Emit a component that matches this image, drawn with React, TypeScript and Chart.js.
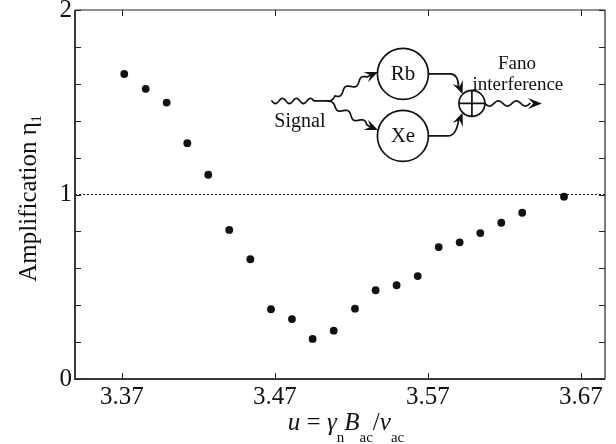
import React, { useEffect, useRef } from 'react';
import { Chart, registerables } from 'chart.js';

Chart.register(...registerables);

// ---- data ----
const uValues = [
  3.3715, 3.3855, 3.3992, 3.4127, 3.4264, 3.4401, 3.4539, 3.4674, 3.4811, 3.4946,
  3.5084, 3.5223, 3.5358, 3.5495, 3.5633, 3.577, 3.5907, 3.6042, 3.6179, 3.6316, 3.6589,
];
const etaValues = [
  1.653, 1.573, 1.498, 1.278, 1.107, 0.808, 0.649, 0.378, 0.325, 0.217,
  0.262, 0.381, 0.481, 0.508, 0.558, 0.715, 0.741, 0.791, 0.847, 0.901, 0.988,
];
const xTickValues = [3.37, 3.47, 3.57, 3.67];
const yLabelValues = [0, 1, 2];
const yTickMarkValues = [0, 0.2, 0.4, 0.6, 0.8, 1, 1.2, 1.4, 1.6, 1.8, 2];
const referenceLevel = 1;
const X_MIN = 3.3393;
const X_MAX = 3.6857;
const Y_MIN = 0;
const Y_MAX = 2;
// anchor of the inset diagram (signal junction), in data coordinates
const diagramAnchor = { u: 3.5046, eta: 1.507 };

const FONT = "'Liberation Serif', 'Times New Roman', serif";

type Run = { t: string; italic?: boolean; sub?: boolean };

function drawRuns(
  ctx: CanvasRenderingContext2D,
  runs: Run[],
  cx: number,
  baseline: number,
  mainSize: number,
  subSize: number,
  subDrop: number
) {
  const fontFor = (r: Run) => `${r.italic ? 'italic ' : ''}${r.sub ? subSize : mainSize}px ${FONT}`;
  const widths = runs.map((r) => {
    ctx.font = fontFor(r);
    return ctx.measureText(r.t).width;
  });
  const total = widths.reduce((a, b) => a + b, 0);
  let x = cx - total / 2;
  ctx.textAlign = 'left';
  ctx.textBaseline = 'alphabetic';
  runs.forEach((r, i) => {
    ctx.font = fontFor(r);
    ctx.fillText(r.t, x, baseline + (r.sub ? subDrop : 0));
    x += widths[i];
  });
}

function arrowHead(ctx: CanvasRenderingContext2D, tx: number, ty: number, ang: number, len = 10, hw = 4.5) {
  const c = Math.cos(ang);
  const s = Math.sin(ang);
  const bx = tx - c * len;
  const by = ty - s * len;
  const nx = tx - c * len * 0.62;
  const ny = ty - s * len * 0.62;
  ctx.beginPath();
  ctx.moveTo(tx, ty);
  ctx.lineTo(bx - s * hw, by + c * hw);
  ctx.lineTo(nx, ny);
  ctx.lineTo(bx + s * hw, by - c * hw);
  ctx.closePath();
  ctx.fill();
}

function wavyTo(
  ctx: CanvasRenderingContext2D,
  x0: number,
  y0: number,
  x1: number,
  y1: number,
  periods: number,
  amp: number
) {
  const dx = x1 - x0;
  const dy = y1 - y0;
  const L = Math.hypot(dx, dy);
  const px = -dy / L;
  const py = dx / L;
  const n = 60;
  for (let i = 0; i <= n; i++) {
    const t = i / n;
    const o = amp * Math.sin(2 * Math.PI * periods * t);
    ctx.lineTo(x0 + dx * t + px * o, y0 + dy * t + py * o);
  }
}

const decorPlugin = {
  id: 'decor',
  afterDraw(chart: any) {
    const { ctx, chartArea, scales } = chart;
    const xs = scales.x;
    const ys = scales.y;
    const { left, right, top, bottom } = chartArea;
    ctx.save();

    // frame
    ctx.strokeStyle = '#222';
    ctx.lineWidth = 1.2;
    ctx.beginPath();
    ctx.moveTo(left, top);
    ctx.lineTo(right, top);
    ctx.lineTo(right, bottom);
    ctx.stroke();
    ctx.strokeStyle = '#3a3a3a';
    ctx.lineWidth = 2;
    ctx.beginPath();
    ctx.moveTo(left, top);
    ctx.lineTo(left, bottom);
    ctx.lineTo(right, bottom);
    ctx.stroke();

    // inward tick marks
    ctx.strokeStyle = '#222';
    ctx.lineWidth = 1;
    const tl = 6;
    xTickValues.forEach((v) => {
      const p = Math.round(xs.getPixelForValue(v)) + 0.5;
      ctx.beginPath();
      ctx.moveTo(p, bottom);
      ctx.lineTo(p, bottom - tl);
      ctx.moveTo(p, top);
      ctx.lineTo(p, top + tl);
      ctx.stroke();
    });
    yTickMarkValues.forEach((v) => {
      const p = Math.round(ys.getPixelForValue(v)) + 0.5;
      ctx.beginPath();
      ctx.moveTo(left, p);
      ctx.lineTo(left + tl, p);
      ctx.moveTo(right, p);
      ctx.lineTo(right - tl, p);
      ctx.stroke();
    });

    // axis titles
    ctx.fillStyle = '#111';
    drawRuns(
      ctx,
      [
        { t: 'u', italic: true },
        { t: ' = ' },
        { t: 'γ', italic: true },
        { t: 'n', sub: true },
        { t: 'B', italic: true },
        { t: 'ac', sub: true },
        { t: '/' },
        { t: 'ν', italic: true },
        { t: 'ac', sub: true },
      ],
      (left + right) / 2 + 6,
      430,
      25,
      15,
      12
    );
    ctx.save();
    ctx.translate(36, (top + bottom) / 2 + 4);
    ctx.rotate(-Math.PI / 2);
    drawRuns(ctx, [{ t: 'Amplification η' }, { t: '1', sub: true }], 0, 0, 25, 14, 5);
    ctx.restore();

    // inset diagram
    const ox = xs.getPixelForValue(diagramAnchor.u);
    const oy = ys.getPixelForValue(diagramAnchor.eta);
    ctx.strokeStyle = '#111';
    ctx.fillStyle = '#111';
    ctx.lineWidth = 1.7;
    ctx.lineJoin = 'round';
    ctx.lineCap = 'round';

    // input signal
    ctx.beginPath();
    ctx.moveTo(ox - 56, oy);
    wavyTo(ctx, ox - 56, oy, ox - 14, oy, 3, 2.6);
    ctx.lineTo(ox, oy);
    ctx.stroke();

    // upper branch to Rb
    ctx.beginPath();
    ctx.moveTo(ox, oy);
    ctx.quadraticCurveTo(ox + 5, oy, ox + 7, oy - 5);
    wavyTo(ctx, ox + 7, oy - 5, ox + 39, oy - 24, 2, 2.6);
    ctx.lineTo(ox + 42, oy - 25.5);
    ctx.stroke();
    arrowHead(ctx, ox + 50, oy - 29, Math.atan2(-3, 7), 13, 5.5);

    // lower branch to Xe
    ctx.beginPath();
    ctx.moveTo(ox, oy);
    ctx.quadraticCurveTo(ox + 5, oy, ox + 7, oy + 5);
    wavyTo(ctx, ox + 7, oy + 5, ox + 39, oy + 24, 2, 2.6);
    ctx.lineTo(ox + 42, oy + 25.5);
    ctx.stroke();
    arrowHead(ctx, ox + 50, oy + 29, Math.atan2(3, 7), 13, 5.5);

    // circles
    const rbC = { x: ox + 75, y: oy - 27 };
    const xeC = { x: ox + 75, y: oy + 35 };
    const R = 25.5;
    [rbC, xeC].forEach((c) => {
      ctx.beginPath();
      ctx.arc(c.x, c.y, R, 0, Math.PI * 2);
      ctx.stroke();
    });
    const sumC = { x: ox + 144, y: oy + 2.5 };
    const r2 = 13;
    ctx.beginPath();
    ctx.arc(sumC.x, sumC.y, r2, 0, Math.PI * 2);
    ctx.moveTo(sumC.x - r2, sumC.y);
    ctx.lineTo(sumC.x + r2, sumC.y);
    ctx.moveTo(sumC.x, sumC.y - r2);
    ctx.lineTo(sumC.x, sumC.y + r2);
    ctx.stroke();

    // Rb -> sum
    const t1 = { x: sumC.x - r2 * 0.72, y: sumC.y - r2 * 0.72 };
    ctx.beginPath();
    ctx.moveTo(rbC.x + R, rbC.y);
    ctx.lineTo(ox + 122, rbC.y);
    ctx.quadraticCurveTo(ox + 130, rbC.y, t1.x - 4, t1.y - 8);
    ctx.stroke();
    arrowHead(ctx, t1.x, t1.y, Math.atan2(1.4, 0.55), 13, 5.5);

    // Xe -> sum
    const t2 = { x: sumC.x - r2 * 0.72, y: sumC.y + r2 * 0.72 };
    ctx.beginPath();
    ctx.moveTo(xeC.x + R, xeC.y);
    ctx.lineTo(ox + 120, xeC.y);
    ctx.quadraticCurveTo(ox + 128, xeC.y, t2.x - 4, t2.y + 8);
    ctx.stroke();
    arrowHead(ctx, t2.x, t2.y, Math.atan2(-1.4, 0.55), 13, 5.5);

    // output
    ctx.beginPath();
    ctx.moveTo(sumC.x + r2, sumC.y);
    wavyTo(ctx, sumC.x + r2, sumC.y, ox + 202, sumC.y, 2.5, 2.6);
    ctx.stroke();
    arrowHead(ctx, ox + 214, sumC.y, 0, 14, 5.5);

    // labels
    ctx.textAlign = 'center';
    ctx.textBaseline = 'middle';
    ctx.font = `21px ${FONT}`;
    ctx.fillText('Rb', rbC.x, rbC.y + 1);
    ctx.fillText('Xe', xeC.x, xeC.y + 1);
    ctx.font = `20px ${FONT}`;
    ctx.fillText('Signal', ox - 28, oy + 21);
    ctx.font = `19px ${FONT}`;
    ctx.fillText('Fano', ox + 189, oy - 37);
    ctx.fillText('interference', ox + 190, oy - 16);

    ctx.restore();
  },
};

export default function App() {
  const ref = useRef<HTMLCanvasElement | null>(null);

  useEffect(() => {
    if (!ref.current) return;
    const chart = new Chart(ref.current, {
      type: 'scatter',
      data: {
        datasets: [
          {
            type: 'line',
            data: [
              { x: X_MIN, y: referenceLevel },
              { x: X_MAX, y: referenceLevel },
            ],
            borderColor: '#111',
            borderWidth: 1,
            borderDash: [2, 2],
            pointRadius: 0,
            fill: false,
          } as any,
          {
            type: 'scatter',
            data: uValues.map((u, i) => ({ x: u, y: etaValues[i] })),
            pointRadius: 3.9,
            pointHoverRadius: 3.9,
            backgroundColor: '#111',
            borderWidth: 0,
          },
        ],
      },
      options: {
        animation: false,
        responsive: false,
        devicePixelRatio: 1,
        layout: { padding: { top: 10, right: 11, left: 0, bottom: 0 } },
        plugins: {
          legend: { display: false },
          tooltip: { enabled: false },
          title: { display: false },
        },
        scales: {
          x: {
            type: 'linear',
            min: X_MIN,
            max: X_MAX,
            border: { display: false },
            grid: { display: false, drawTicks: false },
            afterBuildTicks: (scale: any) => {
              scale.ticks = xTickValues.map((v) => ({ value: v }));
            },
            afterFit: (scale: any) => {
              scale.height = 65;
              scale.paddingLeft = 0;
              scale.paddingRight = 0;
            },
            ticks: {
              autoSkip: false,
              maxRotation: 0,
              padding: 3,
              color: '#111',
              font: { family: FONT, size: 25 },
              callback: (v: any) => Number(v).toFixed(2),
            },
          },
          y: {
            type: 'linear',
            min: Y_MIN,
            max: Y_MAX,
            border: { display: false },
            grid: { display: false, drawTicks: false },
            afterBuildTicks: (scale: any) => {
              scale.ticks = yLabelValues.map((v) => ({ value: v }));
            },
            afterFit: (scale: any) => {
              scale.width = 75;
              scale.paddingTop = 0;
              scale.paddingBottom = 0;
            },
            ticks: {
              autoSkip: false,
              padding: 3,
              color: '#111',
              font: { family: FONT, size: 25 },
              callback: (v: any) => String(v),
            },
          },
        },
      },
      plugins: [decorPlugin],
    });
    return () => chart.destroy();
  }, []);

  return (
    <div style={{ position: 'absolute', left: 0, top: 0, width: 616, height: 444, background: '#fff' }}>
      <canvas ref={ref} width={616} height={444} />
    </div>
  );
}
